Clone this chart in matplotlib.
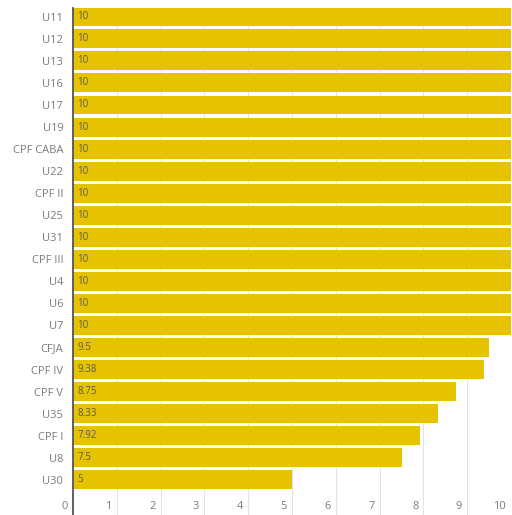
import matplotlib
matplotlib.use("Agg")
import matplotlib.pyplot as plt
from matplotlib.transforms import ScaledTranslation

categories = ["U11", "U12", "U13", "U16", "U17", "U19", "CPF CABA", "U22", "CPF II",
              "U25", "U31", "CPF III", "U4", "U6", "U7", "CFJA", "CPF IV", "CPF V",
              "U35", "CPF I", "U8", "U30"]
values = [10, 10, 10, 10, 10, 10, 10, 10, 10, 10, 10, 10, 10, 10, 10,
          9.5, 9.38, 8.75, 8.33, 7.92, 7.5, 5]
value_labels = ["10"] * 15 + ["9.5", "9.38", "8.75", "8.33", "7.92", "7.5", "5"]
x_ticks = list(range(11))

plt.rcParams['font.family'] = ['Open Sans', 'DejaVu Sans']

fig = plt.figure(figsize=(5.12, 5.15), dpi=100)
ax = fig.add_axes([73 / 512, 0, (511 - 73) / 512, (515 - 8) / 515])

pos = list(range(len(categories)))
ax.barh(pos, values, height=0.86, color="#E6C300", zorder=2)

for y, lab in zip(pos, value_labels):
    ax.annotate(lab, (0, y), xytext=(3, 0), textcoords="offset points",
                va="center", ha="left", fontsize=7, color="#5a5a5a", zorder=3)

ax.set_xlim(0, 10)
ax.set_ylim(22.6, -0.4)
ax.set_yticks(pos)
ax.set_yticklabels(categories, fontsize=8, color="#7a7a7a")
ax.set_xticks(x_ticks)
ax.set_xticklabels([str(t) for t in x_ticks], fontsize=8, color="#7a7a7a", ha="right")
ax.tick_params(axis="y", length=0, pad=7)
ax.tick_params(axis="x", length=0, pad=-10)
shift = ScaledTranslation(-5 / 100, 0, fig.dpi_scale_trans)
for lab in ax.get_xticklabels():
    lab.set_transform(lab.get_transform() + shift)

ax.grid(axis="x", color="#e4e4e4", linewidth=0.8, zorder=0)
ax.grid(axis="y", visible=False)
for side in ["top", "right", "bottom"]:
    ax.spines[side].set_visible(False)
ax.spines["left"].set_color("#555555")
ax.spines["left"].set_linewidth(1.3)
ax.set_axisbelow(True)

fig.savefig("out.png", dpi=100)
